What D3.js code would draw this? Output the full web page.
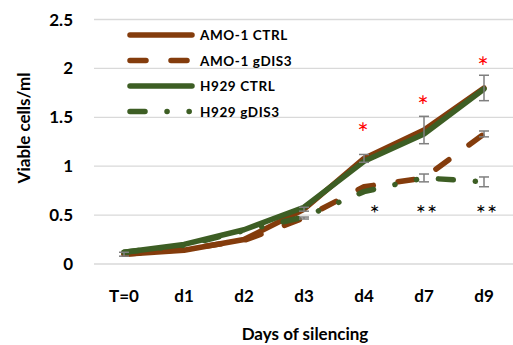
<!DOCTYPE html>
<html>
<head>
<meta charset="utf-8">
<script src="https://cdn.jsdelivr.net/npm/d3@7"></script>
<style>
  body { margin: 0; background: #fff; }
  text { font-family: Lato, "Open Sans", sans-serif; }
</style>
</head>
<body>
<script>
// values
var days = ["T=0", "d1", "d2", "d3", "d4", "d7", "d9"]
var yTicks = [0, 0.5, 1, 1.5, 2, 2.5]

var amoCtrl = [0.10, 0.14, 0.25, 0.56, 1.08, 1.37, 1.80]
var amoCtrlErr = [0.02, 0, 0, 0.02, 0.04, 0.14, 0.13]
var amoGdis = [0.10, 0.15, 0.24, 0.47, 0.79, 0.88, 1.33]
var amoGdisErr = [0, 0, 0, 0.01, 0, 0.04, 0.03]
var h929Ctrl = [0.12, 0.20, 0.35, 0.58, 1.05, 1.33, 1.79]
var h929CtrlErr = [0, 0, 0, 0, 0, 0, 0]
var h929Gdis = [0.12, 0.19, 0.34, 0.48, 0.74, 0.88, 0.84]
var h929GdisErr = [0, 0, 0, 0, 0, 0, 0.05]

var legendNames = ["AMO-1 CTRL", "AMO-1 gDIS3", "H929 CTRL", "H929 gDIS3"]
var redStars = [{day: "d4", v: 1.39}, {day: "d7", v: 1.67}, {day: "d9", v: 2.07}]
var blackStars = [{day: "d4", t: "*"}, {day: "d7", t: "**"}, {day: "d9", t: "**"}]

var brown = "#843C0C"
var green = "#3D5E24"

var series = [
  {name: legendNames[0], vals: amoCtrl, err: amoCtrlErr, color: brown, dash: null},
  {name: legendNames[1], vals: amoGdis, err: amoGdisErr, color: brown, dash: "16,25"},
  {name: legendNames[2], vals: h929Ctrl, err: h929CtrlErr, color: green, dash: null},
  {name: legendNames[3], vals: h929Gdis, err: h929GdisErr, color: green, dash: "15,22,0.1,22,0.1,22"}
]

window.onload = function() {
  var width = 513, height = 345

  var svg = d3.select("body").append("svg")
              .attr("width", width)
              .attr("height", height)

  var x = d3.scalePoint().domain(days).range([94, 514]).padding(0.5)
  var y = d3.scaleLinear().domain([0, 2.5]).range([264, 19.5])

  // gridlines
  svg.append("g").selectAll("line")
     .data(yTicks).enter().append("line")
     .attr("x1", 94).attr("x2", 514)
     .attr("y1", d => y(d)).attr("y2", d => y(d))
     .attr("stroke", "#d9d9d9").attr("stroke-width", 1.3)

  // y tick labels
  svg.append("g").selectAll("text")
     .data(yTicks).enter().append("text")
     .attr("x", 73).attr("y", d => y(d) + 6)
     .attr("text-anchor", "end")
     .attr("font-size", 17).attr("font-weight", "bold")
     .text(d => d)

  // x tick labels
  svg.append("g").selectAll("text")
     .data(days).enter().append("text")
     .attr("x", d => x(d)).attr("y", 302)
     .attr("text-anchor", "middle")
     .attr("font-size", 17).attr("font-weight", "bold")
     .text(d => d)

  // axis titles
  svg.append("text")
     .attr("transform", "translate(30,128) rotate(-90)")
     .attr("text-anchor", "middle")
     .attr("font-size", 17).attr("font-weight", "bold")
     .text("Viable cells/ml")
  svg.append("text")
     .attr("x", 305).attr("y", 340)
     .attr("text-anchor", "middle")
     .attr("font-size", 17).attr("font-weight", "bold")
     .text("Days of silencing")

  var line = d3.line()
               .x((d, i) => x(days[i]))
               .y(d => y(d))

  var lines = svg.append("g")
  series.forEach(function(s) {
    lines.append("path")
         .datum(s.vals)
         .attr("d", line)
         .attr("fill", "none")
         .attr("stroke", s.color)
         .attr("stroke-width", 5.5)
         .attr("stroke-linecap", "round")
         .attr("stroke-linejoin", "round")
         .attr("stroke-dasharray", s.dash)
  })

  // error bars
  var eb = svg.append("g").attr("stroke", "#7f7f7f").attr("stroke-width", 1.5)
  series.forEach(function(s) {
    s.vals.forEach(function(v, i) {
      var e = s.err[i]
      if (!e) return
      var cx = x(days[i])
      eb.append("line").attr("x1", cx).attr("x2", cx).attr("y1", y(v - e)).attr("y2", y(v + e))
      eb.append("line").attr("x1", cx - 5).attr("x2", cx + 5).attr("y1", y(v - e)).attr("y2", y(v - e))
      eb.append("line").attr("x1", cx - 5).attr("x2", cx + 5).attr("y1", y(v + e)).attr("y2", y(v + e))
    })
  })

  // significance stars
  svg.append("g").selectAll("text")
     .data(redStars).enter().append("text")
     .attr("x", d => x(d.day) - 1).attr("y", d => y(d.v) + 15)
     .attr("text-anchor", "middle")
     .attr("font-size", 27).attr("fill", "#ff0000")
     .attr("font-family", "Liberation Sans")
     .text("*")
  svg.append("g").selectAll("text")
     .data(blackStars).enter().append("text")
     .attr("x", d => x(d.day) + (d.t.length == 1 ? 11 : 3)).attr("y", 222)
     .attr("text-anchor", "middle")
     .attr("font-size", 24).attr("fill", "#000")
     .attr("font-family", "Liberation Sans")
     .attr("letter-spacing", 1)
     .text(d => d.t)

  // legend
  var leg = svg.append("g")
  series.forEach(function(s, i) {
    var ly = 35 + i * 25.5
    leg.append("line")
       .attr("x1", 130).attr("x2", 192)
       .attr("y1", ly).attr("y2", ly)
       .attr("stroke", s.color).attr("stroke-width", 5.5)
       .attr("stroke-linecap", "round")
       .attr("stroke-dasharray", s.dash)
    leg.append("text")
       .attr("x", 200).attr("y", ly + 5)
       .attr("font-size", 13.5).attr("font-weight", "bold")
       .attr("letter-spacing", 0.6)
       .text(s.name)
  })
}
</script>
</body>
</html>
